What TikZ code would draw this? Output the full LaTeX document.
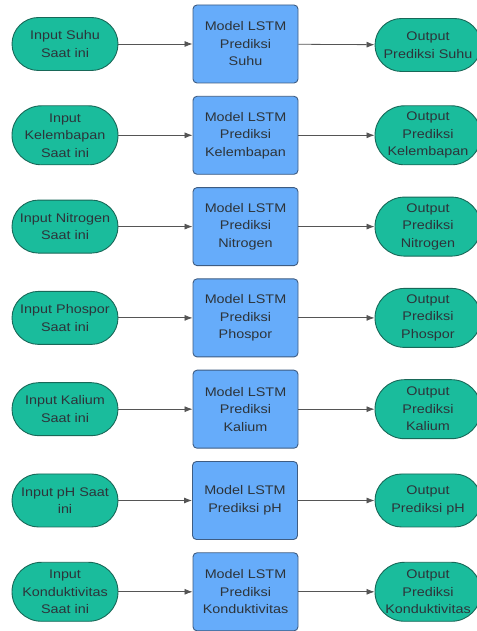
\documentclass[tikz,border=0pt]{standalone}
\usepackage{fontspec}
\setmainfont{Liberation Sans}[FakeStretch=1.15]
\usepackage{tikz}
\usetikzlibrary{arrows.meta}
\definecolor{tealfill}{RGB}{26,188,156}
\definecolor{tealline}{RGB}{24,104,88}
\definecolor{lstmfill}{RGB}{102,172,250}
\definecolor{lstmline}{RGB}{62,92,130}
\definecolor{linkgray}{RGB}{85,85,85}
\definecolor{labelgray}{RGB}{45,52,58}
\newcommand{\lblfont}{\fontsize{12.5}{17.5}\selectfont}
\tikzset{
  lbl/.style={align=center, text=labelgray, font=\lblfont, inner sep=0pt, line width=0.9pt},
  pilltwo/.style={lbl, draw=tealline, fill=tealfill, minimum width=106pt, minimum height=53pt, rounded corners=26.5pt},
  pillthree/.style={lbl, draw=tealline, fill=tealfill, minimum width=106pt, minimum height=59pt, rounded corners=29.5pt},
  lstmbox/.style={lbl, draw=lstmline, fill=lstmfill, minimum width=105pt, minimum height=78pt, rounded corners=4pt},
  link/.style={draw=linkgray, line width=0.8pt, -{Latex[length=8pt,width=6pt]}}
}

\begin{document}
\begin{tikzpicture}[x=1pt,y=1pt]
\useasboundingbox (0,0) rectangle (476,631);
\fill[white] (0,0) rectangle (476,631);

\node[pilltwo] (i1) at (65,587) {Input Suhu\\Saat ini};
\node[lstmbox] (m1) at (245.5,587) {Model LSTM\\Prediksi\\Suhu};
\node[pilltwo] (o1) at (428,586) {Output\\Prediksi Suhu};

\node[pillthree] (i2) at (65,495.7) {Input\\Kelembapan\\Saat ini};
\node[lstmbox] (m2) at (245.5,495.7) {Model LSTM\\Prediksi\\Kelembapan};
\node[pillthree] (o2) at (428,495.7) {Output\\Prediksi\\Kelembapan};

\node[pilltwo] (i3) at (65,404.4) {Input Nitrogen\\Saat ini};
\node[lstmbox] (m3) at (245.5,404.4) {Model LSTM\\Prediksi\\Nitrogen};
\node[pillthree] (o3) at (428,404.4) {Output\\Prediksi\\Nitrogen};

\node[pilltwo] (i4) at (65,313.1) {Input Phospor\\Saat ini};
\node[lstmbox] (m4) at (245.5,313.1) {Model LSTM\\Prediksi\\Phospor};
\node[pillthree] (o4) at (428,313.1) {Output\\Prediksi\\Phospor};

\node[pilltwo] (i5) at (65,221.8) {Input Kalium\\Saat ini};
\node[lstmbox] (m5) at (245.5,221.8) {Model LSTM\\Prediksi\\Kalium};
\node[pillthree] (o5) at (428,221.8) {Output\\Prediksi\\Kalium};

\node[pilltwo] (i6) at (65,130.5) {Input pH Saat\\ini};
\node[lstmbox] (m6) at (245,130.5) {Model LSTM\\Prediksi pH};
\node[pilltwo] (o6) at (428,130.5) {Output\\Prediksi pH};

\node[pillthree] (i7) at (65,39.2) {Input\\Konduktivitas\\Saat ini};
\node[lstmbox] (m7) at (245.5,39.2) {Model LSTM\\Prediksi\\Konduktivitas};
\node[pillthree] (o7) at (428,39.2) {Output\\Prediksi\\Konduktivitas};

\draw[link] (i1) -- (m1);
\draw[link] (m1) -- (o1);
\draw[link] (i2) -- (m2);
\draw[link] (m2) -- (o2);
\draw[link] (i3) -- (m3);
\draw[link] (m3) -- (o3);
\draw[link] (i4) -- (m4);
\draw[link] (m4) -- (o4);
\draw[link] (i5) -- (m5);
\draw[link] (m5) -- (o5);
\draw[link] (i6) -- (m6);
\draw[link] (m6) -- (o6);
\draw[link] (i7) -- (m7);
\draw[link] (m7) -- (o7);
\end{tikzpicture}
\end{document}
